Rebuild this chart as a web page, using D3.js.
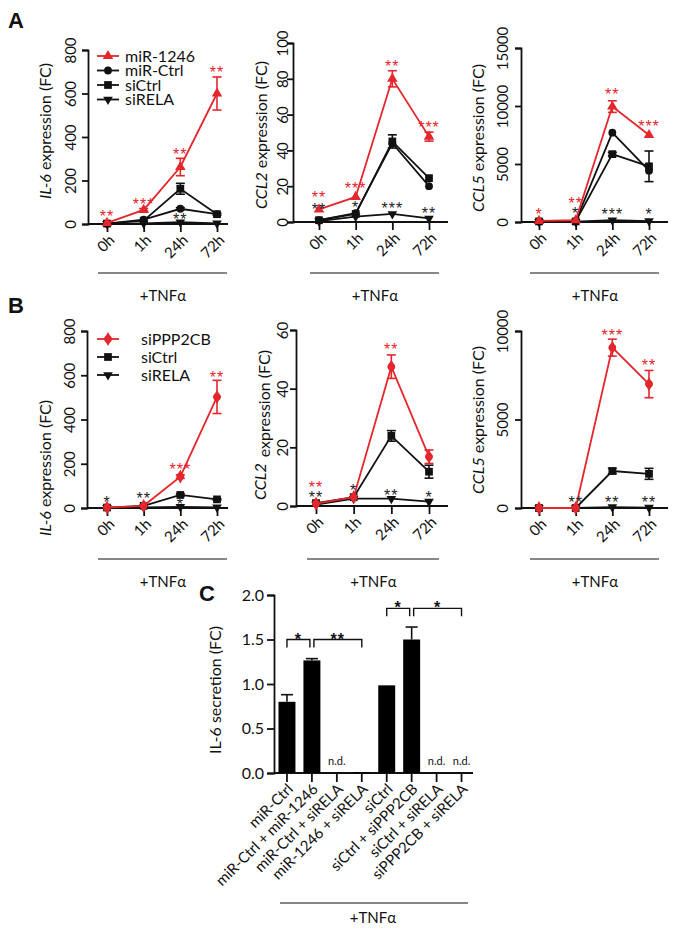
<!DOCTYPE html>
<html>
<head>
<meta charset="utf-8">
<script src="https://cdn.jsdelivr.net/npm/d3@7/dist/d3.min.js"></script>
<style>
  html, body { margin: 0; padding: 0; background: #fff; }
  svg { display: block; }
  text { font-family: Lato, "Open Sans", sans-serif; fill: #111; }
</style>
</head>
<body>
<svg id="chart" width="677" height="935"></svg>
<script>
// ---------------- DATA ----------------
const timepoints = ["0h", "1h", "24h", "72h"];
const treatmentLabel = "+TNFα";

// Panel A – IL-6
const a1Mir1246 = [5, 65, 262, 600];
const a1Mir1246Err = [0, 6, 40, 76];
const a1MirCtrl = [2, 20, 70, 45];
const a1MirCtrlErr = [0, 0, 5, 0];
const a1SiCtrl = [2, 15, 162, 45];
const a1SiCtrlErr = [0, 0, 25, 4];
const a1SiRELA = [1, 3, 8, 3];
// Panel A – CCL2
const a2Mir1246 = [7, 14, 80, 47.7];
const a2Mir1246Err = [0, 0, 4.5, 2.5];
const a2MirCtrl = [1, 5, 44, 20];
const a2MirCtrlErr = [0, 0, 0, 0];
const a2SiCtrl = [1, 4.5, 45, 24.5];
const a2SiCtrlErr = [0, 0, 3.7, 0];
const a2SiRELA = [0.5, 3, 4.5, 2];
// Panel A – CCL5
const a3Mir1246 = [100, 150, 9950, 7500];
const a3Mir1246Err = [0, 0, 500, 0];
const a3MirCtrl = [50, 50, 7700, 4420];
const a3MirCtrlErr = [0, 0, 0, 0];
const a3SiCtrl = [50, 50, 5850, 4800];
const a3SiCtrlErr = [0, 0, 150, 1320];
const a3SiRELA = [20, 30, 150, 80];

// Panel B – IL-6
const b1SiPPP2CB = [2, 10, 142, 502];
const b1SiPPP2CBErr = [0, 0, 8, 75];
const b1SiCtrl = [2, 10, 59, 39];
const b1SiCtrlErr = [0, 0, 5, 3];
const b1SiRELA = [1, 3, 5, 3];
// Panel B – CCL2
const b2SiPPP2CB = [0.8, 3, 47.5, 16.8];
const b2SiPPP2CBErr = [0, 0, 4, 2.3];
const b2SiCtrl = [1, 3, 23.9, 11.7];
const b2SiCtrlErr = [0, 0, 1.8, 2.2];
const b2SiRELA = [0.5, 2.5, 2.5, 1.5];
// Panel B – CCL5
const b3SiPPP2CB = [0, 0, 9060, 7000];
const b3SiPPP2CBErr = [0, 0, 480, 770];
const b3SiCtrl = [0, 0, 2090, 1930];
const b3SiCtrlErr = [0, 0, 150, 310];
const b3SiRELA = [0, 0, 50, 20];

// Significance stars: [timepoint, value at star centre, text, isRed]
const a1Stars = [["0h", 51, "**", 1], ["1h", 110, "***", 1], ["24h", 340, "**", 1], ["72h", 717, "**", 1], ["24h", 41, "**", 0]];
const a2Stars = [["0h", 16, "**", 1], ["0h", 9.3, "**", 0], ["1h", 21, "***", 1], ["1h", 10.6, "*", 0], ["24h", 89, "**", 1], ["24h", 10, "***", 0], ["72h", 55, "***", 1], ["72h", 7, "**", 0]];
const a3Stars = [["0h", 950, "*", 1], ["1h", 1950, "**", 1], ["1h", 1050, "*", 0], ["24h", 11300, "**", 1], ["24h", 950, "***", 0], ["72h", 8600, "***", 1], ["72h", 1030, "*", 0]];
const b1Stars = [["0h", 45, "*", 0], ["1h", 63, "**", 0], ["24h", 190, "***", 1], ["24h", 32, "*", 0], ["72h", 610, "**", 1]];
const b2Stars = [["0h", 7.7, "**", 1], ["0h", 4.3, "**", 0], ["1h", 6.5, "*", 0], ["24h", 54.6, "**", 1], ["24h", 5.1, "**", 0], ["72h", 4.4, "*", 0]];
const b3Stars = [["1h", 560, "**", 0], ["24h", 560, "**", 0], ["24h", 10000, "***", 1], ["72h", 510, "**", 0], ["72h", 8250, "**", 1]];

// Axis ticks
const a1Ticks = [0, 200, 400, 600, 800];
const a2Ticks = [0, 20, 40, 60, 80, 100];
const a3Ticks = [0, 5000, 10000, 15000];
const b1Ticks = [0, 200, 400, 600, 800];
const b2Ticks = [0, 20, 40, 60];
const b3Ticks = [0, 5000, 10000];

// Panel C – IL-6 secretion
const cGroups = ["miR-Ctrl", "miR-Ctrl + miR-1246", "miR-Ctrl + siRELA", "miR-1246 + siRELA", "siCtrl", "siCtrl + siPPP2CB", "siCtrl + siRELA", "siPPP2CB + siRELA"];
const cValues = [0.80, 1.265, 0, 0.01, 0.985, 1.50, 0, 0];
const cErrors = [0.08, 0.02, 0, 0, 0, 0.14, 0, 0];
const cNotDetected = [false, false, true, false, false, false, true, true];
const cTicks = [0, 0.5, 1.0, 1.5, 2.0];
// Brackets: [from group index, to group index, value level, text]
const cBrackets = [[0, 1, 1.5, "*"], [1, 3, 1.5, "**"], [4, 5, 1.85, "*"], [5, 7, 1.85, "*"]];

// ---------------- DRAWING ----------------
const RED = "#e4262d";
const BLACK = "#111";
const STAR_FONT = "'Liberation Sans', Arial, sans-serif";
const svg = d3.select("#chart");

const sym = {
  triUp: d3.symbol().type(d3.symbolTriangle).size(48),
  circle: d3.symbol().type(d3.symbolCircle).size(48),
  square: d3.symbol().type(d3.symbolSquare).size(60),
  triDown: d3.symbol().type(d3.symbolTriangle).size(40),
  diamond: d3.symbol().type(d3.symbolCircle).size(44)
};

function drawMarker(g, kind, x, y, color) {
  g.append("path").attr("d", sym[kind]()).attr("fill", color)
    .attr("transform", `translate(${x},${y})` + (kind === "triDown" ? " rotate(180)" : ""));
  if (kind === "diamond") {
    g.append("path").attr("d", d3.symbol().type(d3.symbolDiamond).size(55)()).attr("fill", color)
      .attr("transform", `translate(${x},${y})`);
  }
}

function linePanel(cfg) {
  const g = svg.append("g");
  const x = d3.scalePoint().domain(timepoints).range([cfg.c0, cfg.c1]);
  const y = d3.scaleLinear().domain([0, cfg.yMax]).range([cfg.yB, cfg.yT]);

  // y axis
  const ya = g.append("g").attr("transform", `translate(${cfg.ax},0)`)
    .call(d3.axisLeft(y).tickValues(cfg.ticks).tickSize(6).tickFormat(d3.format("d")));
  ya.select(".domain").attr("stroke", BLACK).attr("stroke-width", 1.8);
  ya.selectAll(".tick line").attr("stroke", BLACK).attr("stroke-width", 1.8);
  ya.selectAll(".tick text").attr("font-size", 15).attr("fill", "#111")
    .attr("text-anchor", "middle").attr("x", null).attr("dy", null)
    .attr("transform", `translate(${-cfg.lblOff},0) rotate(-90)`);

  // x axis
  const xa = g.append("g").attr("transform", `translate(0,${cfg.yB})`)
    .call(d3.axisBottom(x).tickSize(8).tickSizeOuter(0));
  xa.select(".domain").remove();
  xa.append("line").attr("x1", cfg.ax).attr("x2", cfg.xEnd).attr("stroke", BLACK).attr("stroke-width", 1.8);
  xa.selectAll(".tick line").attr("stroke", BLACK).attr("stroke-width", 1.8);
  xa.selectAll(".tick text").attr("font-size", 15).attr("fill", "#111")
    .attr("text-anchor", "end").attr("y", null).attr("dy", null)
    .attr("transform", "translate(8,17) rotate(-45)");

  // y title
  const t = g.append("text").attr("font-size", 16).attr("text-anchor", "middle")
    .attr("transform", `translate(${cfg.tx},${cfg.ty}) rotate(-90)`);
  t.append("tspan").attr("font-style", "italic").text(cfg.gene);
  t.append("tspan").attr("dy", cfg.splitDy || 0).attr("dx", cfg.splitDy ? 6 : 0).text((cfg.splitDy ? "" : " ") + "expression (FC)");

  // treatment bracket
  g.append("line").attr("x1", cfg.c0 - 9).attr("x2", cfg.c1 + 10)
    .attr("y1", cfg.by).attr("y2", cfg.by).attr("stroke", BLACK).attr("stroke-width", 1.2);
  g.append("text").attr("x", (cfg.c0 + cfg.c1) / 2 + 1).attr("y", cfg.by + 28)
    .attr("font-size", 15).attr("text-anchor", "middle").text(treatmentLabel);

  // series
  const line = d3.line().x((d, i) => x(timepoints[i])).y(d => y(d));
  cfg.series.forEach(s => {
    const col = s.red ? RED : BLACK;
    g.append("path").datum(s.v).attr("d", line).attr("fill", "none")
      .attr("stroke", col).attr("stroke-width", 1.8);
    s.v.forEach((v, i) => {
      const e = s.e ? s.e[i] : 0;
      const cx = x(timepoints[i]);
      if (e > 0) {
        g.append("line").attr("x1", cx).attr("x2", cx).attr("y1", y(v - e)).attr("y2", y(v + e))
          .attr("stroke", col).attr("stroke-width", 1.6);
        [v + e, v - e].forEach(w => {
          if (w > 0) g.append("line").attr("x1", cx - 4.5).attr("x2", cx + 4.5)
            .attr("y1", y(w)).attr("y2", y(w)).attr("stroke", col).attr("stroke-width", 1.6);
        });
      }
      drawMarker(g, s.m, cx, y(v), col);
    });
  });

  // stars
  cfg.stars.forEach(st => {
    g.append("text").attr("x", x(st[0])).attr("y", y(st[1]) + 9.5)
      .attr("font-size", 16).attr("letter-spacing", 1).attr("text-anchor", "middle")
      .style("font-family", STAR_FONT)
      .style("fill", st[3] ? RED : "#222").text(st[2]);
  });

  // legend
  if (cfg.legend) {
    cfg.legend.rows.forEach((r, i) => {
      const ly = cfg.legend.y + i * cfg.legend.dy;
      const col = r.red ? RED : BLACK;
      g.append("line").attr("x1", cfg.legend.x).attr("x2", cfg.legend.x + 22)
        .attr("y1", ly).attr("y2", ly).attr("stroke", col).attr("stroke-width", 1.8);
      drawMarker(g, r.m, cfg.legend.x + 11, ly, col);
      g.append("text").attr("x", cfg.legend.tx).attr("y", ly + 5.5).attr("font-size", 16).text(r.name);
    });
  }
}

// ---- Panel A ----
linePanel({
  ax: 88, xEnd: 228, c0: 107, c1: 217, yB: 224, yT: 50, yMax: 800, ticks: a1Ticks, lblOff: 12,
  tx: 51, ty: 131, gene: "IL-6", by: 273,
  series: [
    { v: a1SiRELA, m: "triDown" },
    { v: a1MirCtrl, e: a1MirCtrlErr, m: "circle" },
    { v: a1SiCtrl, e: a1SiCtrlErr, m: "square" },
    { v: a1Mir1246, e: a1Mir1246Err, m: "triUp", red: 1 }
  ],
  stars: a1Stars,
  legend: { x: 97, tx: 125, y: 56, dy: 14.5, rows: [
    { name: "miR-1246", m: "triUp", red: 1 }, { name: "miR-Ctrl", m: "circle" },
    { name: "siCtrl", m: "square" }, { name: "siRELA", m: "triDown" }] }
});
linePanel({
  ax: 293, xEnd: 448, c0: 319, c1: 429, yB: 222, yT: 43, yMax: 100, ticks: a2Ticks, lblOff: 5,
  tx: 267, ty: 135, gene: "CCL2", by: 273,
  series: [
    { v: a2SiRELA, m: "triDown" },
    { v: a2MirCtrl, e: a2MirCtrlErr, m: "circle" },
    { v: a2SiCtrl, e: a2SiCtrlErr, m: "square" },
    { v: a2Mir1246, e: a2Mir1246Err, m: "triUp", red: 1 }
  ],
  stars: a2Stars
});
linePanel({
  ax: 521, xEnd: 668, c0: 539, c1: 649, yB: 222, yT: 48, yMax: 15000, ticks: a3Ticks, lblOff: 13,
  tx: 484, ty: 138, gene: "CCL5", by: 273,
  series: [
    { v: a3SiRELA, m: "triDown" },
    { v: a3MirCtrl, e: a3MirCtrlErr, m: "circle" },
    { v: a3SiCtrl, e: a3SiCtrlErr, m: "square" },
    { v: a3Mir1246, e: a3Mir1246Err, m: "triUp", red: 1 }
  ],
  stars: a3Stars
});

// ---- Panel B ----
linePanel({
  ax: 87, xEnd: 228, c0: 107, c1: 217, yB: 508, yT: 331, yMax: 800, ticks: b1Ticks, lblOff: 12,
  tx: 51, ty: 468, gene: "IL-6", by: 559,
  series: [
    { v: b1SiRELA, m: "triDown" },
    { v: b1SiCtrl, e: b1SiCtrlErr, m: "square" },
    { v: b1SiPPP2CB, e: b1SiPPP2CBErr, m: "diamond", red: 1 }
  ],
  stars: b1Stars,
  legend: { x: 97, tx: 141, y: 339, dy: 18, rows: [
    { name: "siPPP2CB", m: "diamond", red: 1 }, { name: "siCtrl", m: "square" },
    { name: "siRELA", m: "triDown" }] }
});
linePanel({
  ax: 296, xEnd: 448, c0: 316, c1: 429, yB: 506, yT: 330, yMax: 60, ticks: b2Ticks, lblOff: 8,
  tx: 266, ty: 425, gene: "CCL2", splitDy: 4, by: 559,
  series: [
    { v: b2SiRELA, m: "triDown" },
    { v: b2SiCtrl, e: b2SiCtrlErr, m: "square" },
    { v: b2SiPPP2CB, e: b2SiPPP2CBErr, m: "diamond", red: 1 }
  ],
  stars: b2Stars
});
linePanel({
  ax: 521, xEnd: 668, c0: 539, c1: 649, yB: 508, yT: 331, yMax: 10000, ticks: b3Ticks, lblOff: 13,
  tx: 484, ty: 420, gene: "CCL5", by: 559,
  series: [
    { v: b3SiRELA, m: "triDown" },
    { v: b3SiCtrl, e: b3SiCtrlErr, m: "square" },
    { v: b3SiPPP2CB, e: b3SiPPP2CBErr, m: "diamond", red: 1 }
  ],
  stars: b3Stars
});

// ---- Panel C ----
(function () {
  const g = svg.append("g");
  const ax = 274, y0 = 773;
  const x = d3.scaleBand().domain(cGroups).range([ax + 0.5, 474]).paddingInner(0.32).paddingOuter(0.16);
  const y = d3.scaleLinear().domain([0, 2]).range([y0, 595]);

  const ya = g.append("g").attr("transform", `translate(${ax},0)`)
    .call(d3.axisLeft(y).tickValues(cTicks).tickSize(7).tickFormat(d3.format(".1f")));
  ya.select(".domain").attr("stroke", BLACK).attr("stroke-width", 1.8);
  ya.selectAll(".tick line").attr("stroke", BLACK).attr("stroke-width", 1.8);
  ya.selectAll(".tick text").attr("font-size", 16).attr("fill", "#111").attr("x", -10);

  const xa = g.append("g").attr("transform", `translate(0,${y0})`)
    .call(d3.axisBottom(x).tickSize(9).tickSizeOuter(0));
  xa.select(".domain").remove();
  xa.append("line").attr("x1", ax).attr("x2", 473).attr("stroke", BLACK).attr("stroke-width", 1.8);
  xa.selectAll(".tick line").attr("stroke", BLACK).attr("stroke-width", 1.8);
  xa.selectAll(".tick text").attr("font-size", 15).attr("fill", "#111")
    .attr("text-anchor", "end").attr("y", null).attr("dy", null)
    .attr("transform", "translate(7,17) rotate(-45)");

  // bars
  cGroups.forEach((grp, i) => {
    const v = cValues[i];
    if (v > 0) {
      g.append("rect").attr("x", x(grp)).attr("width", x.bandwidth())
        .attr("y", y(v)).attr("height", Math.max(1.2, y0 - y(v))).attr("fill", "#000");
    }
    const cx = x(grp) + x.bandwidth() / 2;
    if (cErrors[i] > 0) {
      g.append("line").attr("x1", cx).attr("x2", cx).attr("y1", y(v)).attr("y2", y(v + cErrors[i]))
        .attr("stroke", BLACK).attr("stroke-width", 1.6);
      g.append("line").attr("x1", cx - 6).attr("x2", cx + 6).attr("y1", y(v + cErrors[i])).attr("y2", y(v + cErrors[i]))
        .attr("stroke", BLACK).attr("stroke-width", 1.6);
    }
    if (cNotDetected[i]) {
      g.append("text").attr("x", cx).attr("y", y0 - 8).attr("font-size", 11)
        .attr("text-anchor", "middle").text("n.d.");
    }
  });

  // significance brackets
  cBrackets.forEach(b => {
    const xa1 = x(cGroups[b[0]]) + x.bandwidth() / 2 + (b[0] === 1 || b[0] === 5 ? 2 : 0);
    const xb1 = x(cGroups[b[1]]) + x.bandwidth() / 2 - (b[1] === 1 || b[1] === 5 ? 2 : 0);
    const yy = y(b[2]);
    g.append("path").attr("d", `M${xa1},${yy + 8}V${yy}H${xb1}V${yy + 8}`)
      .attr("fill", "none").attr("stroke", BLACK).attr("stroke-width", 1.4);
    g.append("text").attr("x", (xa1 + xb1) / 2).attr("y", yy + 5).attr("font-size", 16)
      .attr("font-weight", "bold").attr("letter-spacing", 1).attr("text-anchor", "middle")
      .style("font-family", STAR_FONT).style("fill", "#111").text(b[3]);
  });

  g.append("text").attr("font-size", 16).attr("text-anchor", "middle")
    .attr("transform", `translate(221,690) rotate(-90)`).text("IL-6 secretion (FC)");

  g.append("line").attr("x1", 280).attr("x2", 468).attr("y1", 903).attr("y2", 903)
    .attr("stroke", BLACK).attr("stroke-width", 1.2);
  g.append("text").attr("x", 373).attr("y", 923).attr("font-size", 15)
    .attr("text-anchor", "middle").text(treatmentLabel);
})();

// ---- panel letters ----
[["A", 8, 28], ["B", 8, 313], ["C", 199, 601]].forEach(l => {
  svg.append("text").attr("x", l[1]).attr("y", l[2]).attr("font-size", 22)
    .attr("font-weight", "bold").style("font-family", "Arial, 'Liberation Sans', sans-serif").text(l[0]);
});
</script>
</body>
</html>
